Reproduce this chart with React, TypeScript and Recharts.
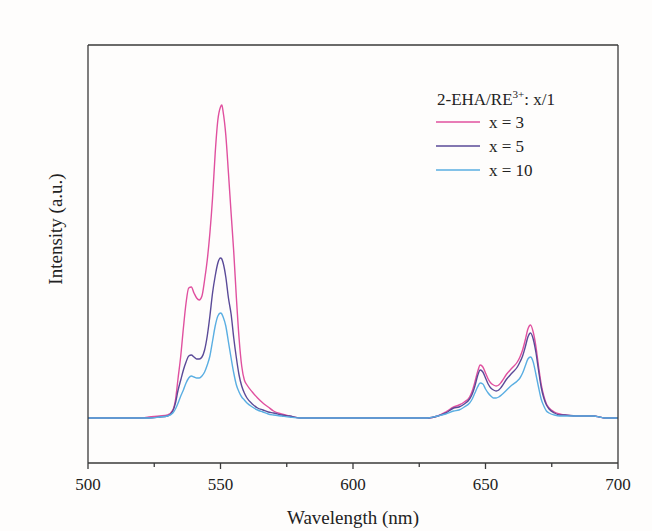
import { LineChart, Line, XAxis, YAxis, Label } from "recharts";

// wavelength grid (nm) and emission intensity (a.u.)
const wavelengths = [
  500, 520, 523, 527, 530, 532, 533, 534, 535, 536, 537, 538, 539, 540, 541, 542,
  543, 544, 545, 546, 547, 548, 549, 550, 550.5, 551, 552, 553, 554, 555, 556, 557,
  558, 559, 560, 562, 564, 566, 568, 570, 573, 576, 580, 600, 628, 632, 635, 638,
  640, 642, 644, 645, 646, 647, 648, 649, 650, 651, 652, 653, 654, 655, 656, 658,
  660, 662, 663, 664, 665, 666, 667, 668, 669, 670, 671, 672, 673, 674, 676, 678,
  680, 684, 688, 691, 693, 695, 700,
];

const x3 = [
  0, 0, 1, 2, 3, 8, 18, 40, 62, 90, 115, 130, 131, 125, 120, 118,
  122, 138, 158, 185, 220, 265, 298, 311, 313, 306, 283, 245, 205, 166, 120, 80,
  52, 38, 33, 26, 20, 15, 11, 7, 4, 2, 0, 0, 0, 2, 6, 11,
  13, 16, 21, 27, 36, 46, 53, 51, 45, 39, 35, 33, 32, 33, 36, 44,
  50, 56, 61, 68, 78, 89, 93, 86, 72, 52, 34, 22, 14, 10, 6, 4,
  3, 2, 2, 2, 1, 0, 0,
];

const x5 = [
  0, 0, 0, 1, 2, 7, 15, 28, 38, 48, 56, 62, 63, 61, 59, 59,
  61, 68, 82, 102, 125, 142, 155, 160, 159, 155, 141, 120, 104, 80, 60, 43,
  32, 25, 20, 14, 10, 8, 6, 5, 3, 2, 0, 0, 0, 2, 5, 10,
  11, 14, 19, 24, 32, 42, 48, 46, 40, 34, 30, 28, 27, 28, 31, 39,
  45, 51, 56, 62, 71, 81, 85, 79, 66, 48, 31, 20, 13, 9, 5, 3,
  3, 2, 2, 2, 1, 0, 0,
];

const x10 = [
  0, 0, 0, 1, 2, 5, 9, 15, 22, 28, 35, 40, 42, 41, 40, 40,
  42, 46, 53, 62, 77, 92, 102, 105, 104, 101, 92, 76, 60, 45, 33, 26,
  21, 18, 15, 11, 8, 6, 4, 3, 2, 1, 0, 0, 0, 2, 4, 7,
  8, 11, 15, 19, 25, 31, 35, 34, 29, 25, 22, 20, 20, 21, 23, 28,
  33, 37, 40, 45, 52, 59, 61, 56, 44, 31, 19, 12, 7, 5, 3, 2,
  2, 2, 2, 2, 1, 0, 0,
];

const xTicks = [500, 525, 550, 575, 600, 625, 650, 675, 700];
const majorTicks = [500, 550, 600, 650, 700];

const series = [
  { key: "x3", name: "x = 3", color: "#e0509f" },
  { key: "x5", name: "x = 5", color: "#5a4a98" },
  { key: "x10", name: "x = 10", color: "#5aaee2" },
];

const data = wavelengths.map((wl, i) => ({
  wl,
  x3: x3[i],
  x5: x5[i],
  x10: x10[i],
}));

const FONT = '"Liberation Serif", "Times New Roman", serif';
const PLOT_BOTTOM = 463;
const FRAME = "#3a3a3a";

function WlTick(props: any) {
  const { x, payload } = props;
  const major = majorTicks.includes(payload.value);
  return (
    <g>
      <line
        x1={x}
        x2={x}
        y1={PLOT_BOTTOM}
        y2={PLOT_BOTTOM + (major ? 6 : 4)}
        stroke={FRAME}
        strokeWidth={1.3}
      />
      {major && (
        <text
          x={x}
          y={PLOT_BOTTOM + 27}
          textAnchor="middle"
          fontSize={17}
          fontFamily={FONT}
          fill="#222"
        >
          {payload.value}
        </text>
      )}
    </g>
  );
}

function LegendBox() {
  return (
    <svg width={200} height={100} style={{ fontFamily: FONT, display: "block" }}>
      <text x={17} y={20} fontSize={17} fill="#222">
        2-EHA/RE
        <tspan dy={-7} fontSize={11}>
          3+
        </tspan>
        <tspan dy={7}>: x/1</tspan>
      </text>
      {series.map((s, i) => {
        const y = 37 + i * 24;
        return (
          <g key={s.key}>
            <line x1={16} x2={60} y1={y} y2={y} stroke={s.color} strokeWidth={1.6} />
            <text x={69} y={y + 6} fontSize={17} fill="#222">
              {s.name}
            </text>
          </g>
        );
      })}
    </svg>
  );
}

export default function App() {
  return (
    <div
      style={{
        position: "absolute",
        left: 0,
        top: 0,
        width: 652,
        height: 531,
        background: "#fefdfc",
      }}
    >
      <LineChart
        width={652}
        height={531}
        data={data}
        margin={{ top: 44, right: 33, bottom: 67, left: 87 }}
      >
        <XAxis
          dataKey="wl"
          type="number"
          domain={[500, 700]}
          ticks={xTicks}
          height={1}
          tickLine={false}
          tick={<WlTick />}
          stroke={FRAME}
          strokeWidth={1.3}
          interval={0}
        >
          <Label
            content={() => (
              <text
                x={353}
                y={524}
                textAnchor="middle"
                fontSize={19}
                fontFamily={FONT}
                fill="#222"
              >
                Wavelength (nm)
              </text>
            )}
          />
        </XAxis>
        <XAxis
          xAxisId="top"
          orientation="top"
          type="number"
          domain={[500, 700]}
          height={1}
          tick={false}
          tickLine={false}
          stroke={FRAME}
          strokeWidth={1.3}
        />
        <YAxis
          type="number"
          domain={[-45, 373]}
          width={1}
          tick={false}
          tickLine={false}
          stroke={FRAME}
          strokeWidth={1.3}
        >
          <Label
            content={() => (
              <text
                x={55}
                y={229}
                transform="rotate(-90 55 229)"
                textAnchor="middle"
                dominantBaseline="central"
                fontSize={19}
                fontFamily={FONT}
                fill="#222"
              >
                Intensity (a.u.)
              </text>
            )}
          />
        </YAxis>
        <YAxis
          yAxisId="right"
          orientation="right"
          width={1}
          tick={false}
          tickLine={false}
          stroke={FRAME}
          strokeWidth={1.3}
        />
        {series.map((s) => (
          <Line
            key={s.key}
            dataKey={s.key}
            name={s.name}
            type="monotone"
            stroke={s.color}
            strokeWidth={1.4}
            dot={false}
            isAnimationActive={false}
          />
        ))}
      </LineChart>
      <div style={{ position: "absolute", left: 420, top: 85 }}>
        <LegendBox />
      </div>
    </div>
  );
}
